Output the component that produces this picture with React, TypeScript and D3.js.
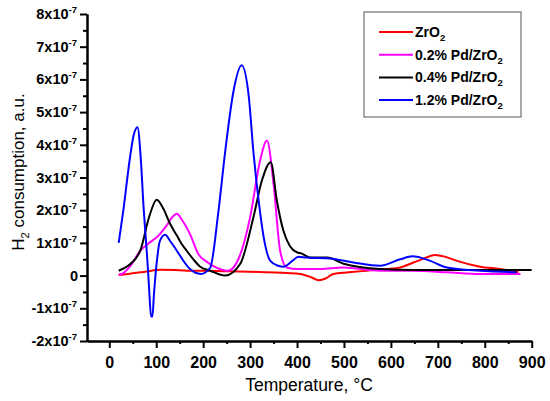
import { useEffect, useRef } from "react";
import * as d3 from "d3";

// values, y in units of 1e-7
const zrT = [20, 40, 66, 90, 108, 140, 165, 208, 250, 300, 336, 380, 407, 430, 446, 462, 477, 510, 549, 590, 620, 648, 670, 694, 715, 741, 790, 833, 872];
const zrV = [0.02, 0.05, 0.1, 0.15, 0.18, 0.17, 0.15, 0.15, 0.13, 0.12, 0.1, 0.08, 0.05, -0.05, -0.14, -0.08, 0.05, 0.1, 0.15, 0.2, 0.25, 0.4, 0.52, 0.63, 0.58, 0.45, 0.27, 0.2, 0.1];

const pd02T = [20, 27, 45, 66, 85, 101, 122, 135, 144, 155, 172, 190, 208, 221, 253, 275, 300, 321, 336, 350, 364, 378, 400, 450, 498, 577, 648, 720, 790, 876];
const pd02V = [0.03, 0.05, 0.3, 0.76, 1.0, 1.17, 1.53, 1.8, 1.89, 1.7, 1.27, 0.65, 0.42, 0.3, 0.15, 0.5, 1.78, 3.5, 4.13, 2.8, 0.76, 0.25, 0.2, 0.2, 0.25, 0.15, 0.15, 0.1, 0.05, 0.05];

const pd04T = [20, 40, 66, 85, 101, 115, 129, 145, 155, 165, 180, 193, 215, 247, 279, 307, 325, 344, 357, 371, 385, 400, 409, 428, 464, 499, 577, 650, 750, 850, 900];
const pd04V = [0.15, 0.3, 0.76, 1.8, 2.32, 2.05, 1.6, 1.2, 0.95, 0.76, 0.48, 0.28, 0.15, 0.0, 0.36, 1.78, 2.9, 3.47, 2.29, 1.37, 0.9, 0.71, 0.68, 0.55, 0.55, 0.36, 0.2, 0.17, 0.17, 0.17, 0.17];

const pd12T = [20, 30, 44, 52, 60, 67, 73, 79, 83, 86, 89, 92, 95, 100, 108, 119, 130, 144, 158, 172, 195, 215, 232, 247, 265, 282, 297, 307, 319, 329, 343, 360, 371, 390, 403, 420, 470, 520, 577, 620, 646, 684, 719, 790, 868];
const pd12V = [1.0, 2.0, 3.6, 4.3, 4.54, 3.6, 2.1, 0.9, 0.05, -0.7, -1.25, -1.25, -0.6, 0.25, 1.07, 1.25, 1.05, 0.76, 0.45, 0.2, 0.05, 0.24, 1.9, 3.8, 5.67, 6.43, 5.5, 3.8, 2.2, 1.17, 0.45, 0.3, 0.27, 0.45, 0.58, 0.55, 0.52, 0.4, 0.3, 0.5, 0.59, 0.45, 0.25, 0.15, 0.1];

const seriesNames = ["ZrO", "0.2% Pd/ZrO", "0.4% Pd/ZrO", "1.2% Pd/ZrO"];
const seriesColors = ["#ff0000", "#ff00ff", "#000000", "#0000ff"];
const seriesT = [zrT, pd02T, pd04T, pd12T];
const seriesV = [zrV, pd02V, pd04V, pd12V];

const xTicks = [0, 100, 200, 300, 400, 500, 600, 700, 800, 900];
const yTicks = [-2, -1, 0, 1, 2, 3, 4, 5, 6, 7, 8];

const FONT = "'Liberation Sans', Arial, sans-serif";

export default function App() {
  const svgRef = useRef<SVGSVGElement | null>(null);

  useEffect(() => {
    if (!svgRef.current) return;
    const svg = d3.select(svgRef.current);
    svg.selectAll("*").remove();

    const x = d3.scaleLinear().domain([-47.5, 900]).range([87, 531.7]);
    const y = d3.scaleLinear().domain([-2, 8]).range([341, 14]);

    // curves
    const line = d3
      .line<[number, number]>()
      .x((d) => x(d[0]))
      .y((d) => y(d[1]))
      .curve(d3.curveMonotoneX);

    seriesT.forEach((ts, i) => {
      const pts = ts.map((t, j) => [t, seriesV[i][j]] as [number, number]);
      svg
        .append("path")
        .attr("d", line(pts))
        .attr("fill", "none")
        .attr("stroke", seriesColors[i])
        .attr("stroke-width", 2);
    });

    // x axis
    const xMinor = d3.range(50, 900, 100);
    const gx = svg.append("g").attr("transform", `translate(0,${y(-2)})`);
    gx.call(d3.axisBottom(x).tickValues(xMinor).tickSize(3).tickSizeOuter(0).tickFormat(() => ""));
    gx.append("g").call(d3.axisBottom(x).tickValues(xTicks).tickSize(7).tickSizeOuter(0));
    gx.selectAll("path, line").attr("stroke", "#000").attr("stroke-width", 2);
    gx.selectAll("text")
      .attr("fill", "#000")
      .attr("font-family", FONT)
      .attr("font-weight", "bold")
      .attr("font-size", 16)
      .attr("dy", "1.05em");

    // y axis
    const yMinor = d3.range(-1.5, 8, 1);
    const gy = svg.append("g").attr("transform", `translate(${x(-47.5)},0)`);
    gy.call(d3.axisLeft(y).tickValues(yMinor).tickSize(4).tickSizeOuter(0).tickFormat(() => ""));
    gy.append("g").call(d3.axisLeft(y).tickValues(yTicks).tickSize(7).tickSizeOuter(0).tickFormat(() => ""));
    gy.selectAll("path, line").attr("stroke", "#000").attr("stroke-width", 2);

    yTicks.forEach((v) => {
      const t = svg
        .append("text")
        .attr("x", 77)
        .attr("y", y(v) + 5)
        .attr("text-anchor", "end")
        .attr("font-family", FONT)
        .attr("font-weight", "bold")
        .attr("font-size", 14.5);
      if (v === 0) {
        t.attr("x", 78).text("0");
      } else {
        t.append("tspan").text(`${v}x10`);
        t.append("tspan").attr("dy", -6).attr("font-size", 9.5).text("-7");
      }
    });

    // axis titles
    svg
      .append("text")
      .attr("x", 309)
      .attr("y", 391)
      .attr("text-anchor", "middle")
      .attr("font-family", FONT)
      .attr("font-size", 17.5)
      .attr("fill", "#000")
      .text("Temperature, °C");

    const yt = svg
      .append("text")
      .attr("transform", `translate(24,172) rotate(-90)`)
      .attr("text-anchor", "middle")
      .attr("font-family", FONT)
      .attr("font-size", 17);
    yt.append("tspan").text("H");
    yt.append("tspan").attr("dy", 5).attr("font-size", 11).text("2");
    yt.append("tspan").attr("dy", -5).text(" consumption, a.u.");

    // legend
    svg
      .append("rect")
      .attr("x", 364)
      .attr("y", 12)
      .attr("width", 157)
      .attr("height", 105)
      .attr("fill", "#fff")
      .attr("stroke", "#555")
      .attr("stroke-width", 1);

    seriesNames.forEach((name, i) => {
      const ly = 32 + i * 22.7;
      svg
        .append("line")
        .attr("x1", 379)
        .attr("x2", 413)
        .attr("y1", ly)
        .attr("y2", ly)
        .attr("stroke", seriesColors[i])
        .attr("stroke-width", 2);
      const lt = svg
        .append("text")
        .attr("x", 415)
        .attr("y", ly + 5)
        .attr("font-family", FONT)
        .attr("font-weight", "bold")
        .attr("font-size", 14);
      lt.append("tspan").text(name);
      lt.append("tspan").attr("dy", 4).attr("font-size", 9.5).text("2");
    });
  }, []);

  return (
    <svg
      ref={svgRef}
      width={550}
      height={401}
      style={{ position: "absolute", left: 0, top: 0, background: "#fff" }}
    />
  );
}
